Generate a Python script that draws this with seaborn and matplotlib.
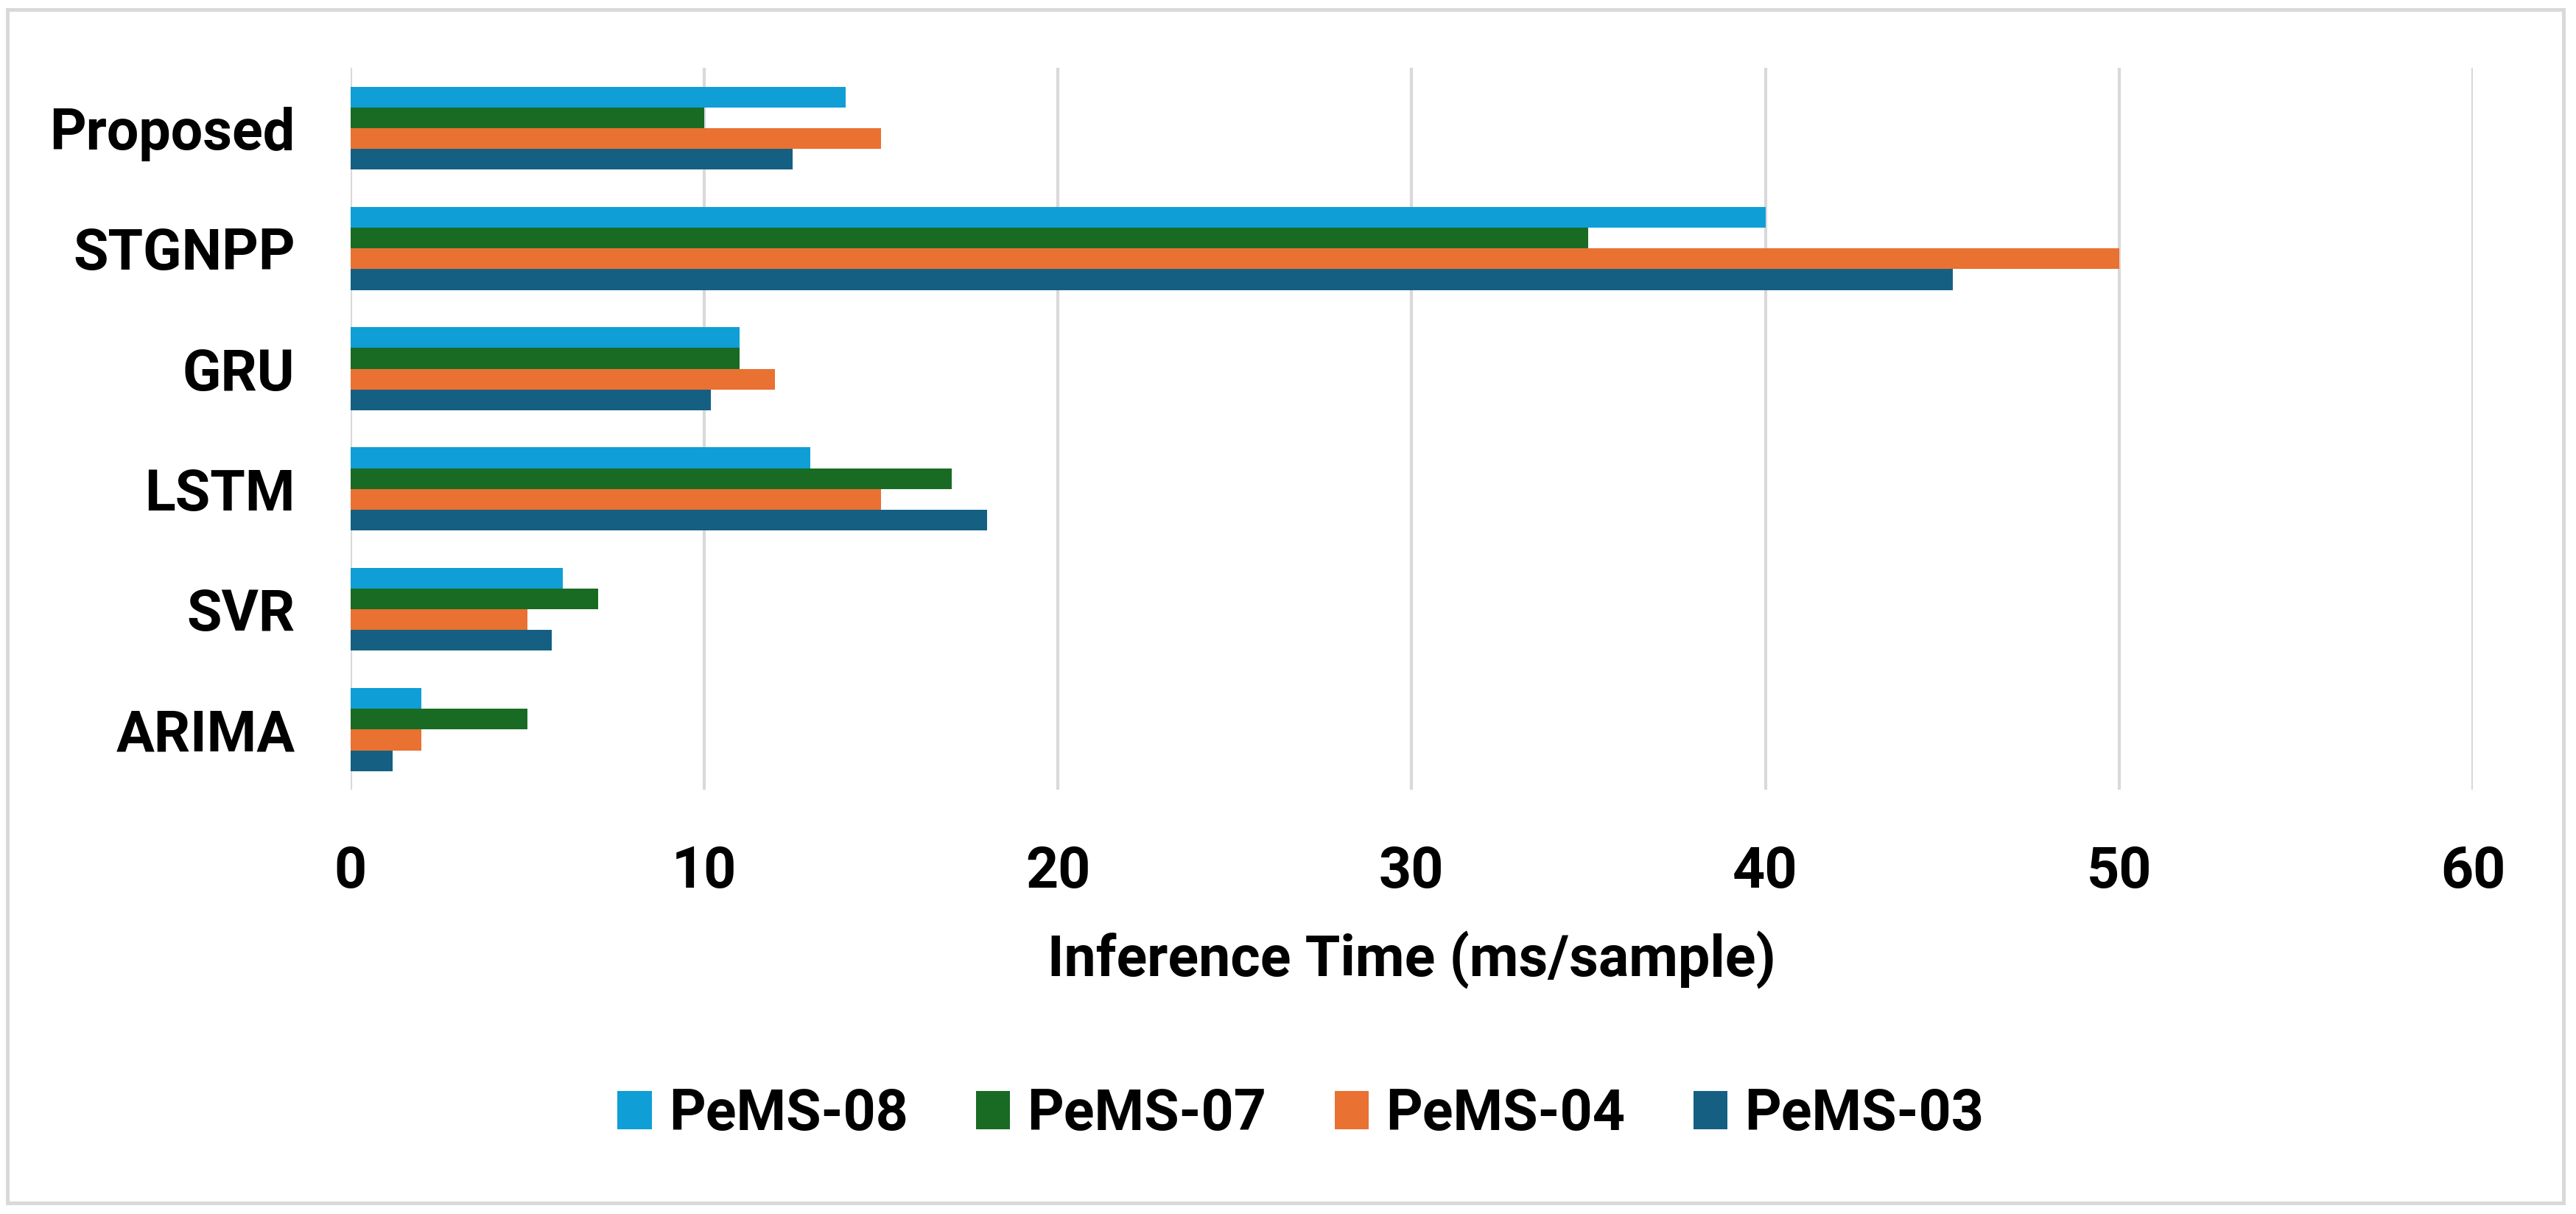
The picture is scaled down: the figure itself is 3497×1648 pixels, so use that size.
import pandas as pd
import matplotlib.pyplot as plt
from matplotlib.patches import Rectangle
import seaborn as sns

# data
models = ["Proposed", "STGNPP", "GRU", "LSTM", "SVR", "ARIMA"]
datasets = ["PeMS-08", "PeMS-07", "PeMS-04", "PeMS-03"]
pems08 = [14, 40, 11, 13, 6, 2]
pems07 = [10, 35, 11, 17, 7, 5]
pems04 = [15, 50, 12, 15, 5, 2]
pems03 = [12.5, 45.3, 10.2, 18, 5.7, 1.2]
x_ticks = [0, 10, 20, 30, 40, 50, 60]

colors = ["#0F9ED5", "#196B24", "#E97132", "#156082"]

sns.set_theme(style="white")
plt.rcParams["font.family"] = ["Roboto", "DejaVu Sans"]
plt.rcParams["font.weight"] = "bold"
plt.rcParams["text.color"] = "black"

df = pd.DataFrame({
    "model": models * 4,
    "dataset": [d for d in datasets for _ in models],
    "time": pems08 + pems07 + pems04 + pems03,
})

fig = plt.figure(figsize=(3497 / 300, 1648 / 300), dpi=300)
ax = fig.add_axes([0.136, 0.3495, 0.824, 0.5945])

sns.barplot(data=df, y="model", x="time", hue="dataset",
            order=models, hue_order=datasets, palette=colors,
            width=0.69, orient="h", ax=ax, saturation=1, legend=True,
            linewidth=0, edgecolor="none")

ax.set_xlim(0, 60)
ax.set_ylim(5.5, -0.5)
ax.set_xticks(x_ticks)
ax.grid(axis="x", color="#D9D9D9", linewidth=1.0)
ax.set_axisbelow(True)
for s in ax.spines.values():
    s.set_visible(False)
ax.tick_params(axis="both", length=0, labelsize=18.5, pad=18,
               labelcolor="black")
for lab in ax.get_xticklabels() + ax.get_yticklabels():
    lab.set_fontweight("bold")
ax.set_ylabel("")
ax.set_xlabel("Inference Time (ms/sample)", fontsize=18.5,
              fontweight="bold", labelpad=10, color="black")

# legend at the bottom of the chart area
handles, labels = ax.get_legend_handles_labels()
ax.get_legend().remove()
fig.legend(handles, labels, loc="center", bbox_to_anchor=(0.505, 0.082),
           ncol=4, frameon=False, prop={"size": 18.5, "weight": "bold"},
           handlelength=0.6, handleheight=0.65, handletextpad=0.3,
           columnspacing=1.2, labelcolor="black")

# light chart-area border
fig.add_artist(Rectangle((0.003, 0.009), 0.992, 0.983,
                         transform=fig.transFigure, fill=False,
                         edgecolor="#D9D9D9", linewidth=1.2))

fig.savefig("out.png", dpi=300)
plt.close()
